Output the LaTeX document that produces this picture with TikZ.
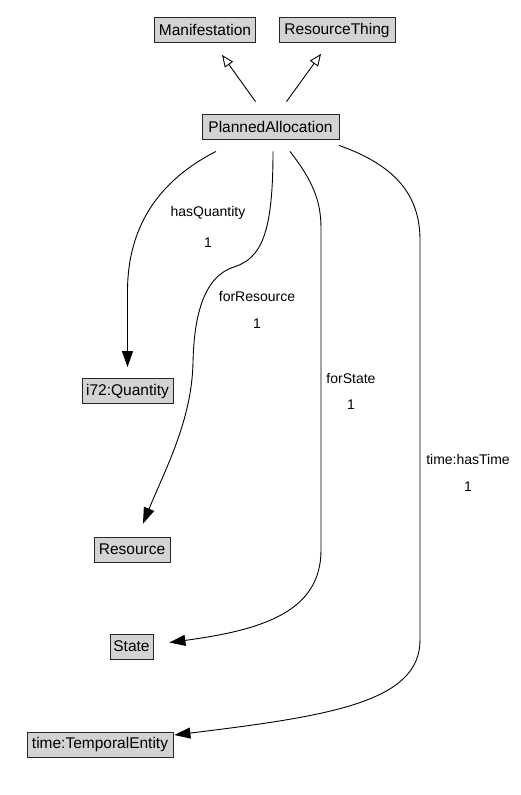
\documentclass[tikz,border=0pt]{standalone}
\usepackage{fontspec}
\setmainfont{Liberation Sans}
\usetikzlibrary{arrows.meta}
\definecolor{boxfill}{RGB}{211,211,211}
\begin{document}
\begin{tikzpicture}[x=1pt,y=-1pt,
  cls/.style={draw=black!85, fill=boxfill, line width=0.8pt, minimum height=25pt, inner sep=0pt, font=\fontsize{15.5}{18}\selectfont},
  lbl/.style={inner sep=0pt, font=\fontsize{14}{16}\selectfont},
  isa/.style={line width=0.9pt, -{Triangle[open, length=12pt, width=10pt]}},
  rel/.style={line width=0.9pt, -{Triangle[length=16pt, width=11pt]}}]
\useasboundingbox (0,0) rectangle (521,795);
% nodes
\node[cls, minimum width=101pt] (man) at (205,30) {Manifestation};
\node[cls, minimum width=116pt] (rt) at (337,30) {ResourceThing};
\node[cls, minimum width=137pt] (pa) at (270.5,127) {PlannedAllocation};
\node[cls, minimum width=91pt] (qty) at (127.5,391) {i72:Quantity};
\node[cls, minimum width=76pt] (res) at (132,549.5) {Resource};
\node[cls, minimum width=43pt] (st) at (131.5,646.5) {State};
\node[cls, minimum width=146pt] (te) at (100,744.5) {time:TemporalEntity};
% inheritance
\draw[isa] ([xshift=-15pt,yshift=12.5pt]pa.north) -- ([xshift=17pt,yshift=-12pt]man.south);
\draw[isa] ([xshift=16pt,yshift=12.5pt]pa.north) -- ([xshift=-16pt,yshift=-11pt]rt.south);
% hasQuantity
\draw[rel] ([xshift=-54.5pt,yshift=-11.5pt]pa.south)
  .. controls (160,180) and (128,225) .. (127.5,290)
  -- ([yshift=11pt]qty.north);
% forResource
\draw[rel] ([xshift=2.5pt,yshift=-11.5pt]pa.south)
  .. controls (273,232) and (262,258) .. (234,267)
  .. controls (202,277) and (194,320) .. (193,362)
  .. controls (192,420) and (165,470) .. ([xshift=11pt,yshift=13pt]res.north);
% forState
\draw[rel] ([xshift=19.5pt,yshift=-11.5pt]pa.south)
  .. controls (312,180) and (321,200) .. (321,228)
  -- (321,550)
  .. controls (321,612) and (262,630) .. ([xshift=16pt,yshift=4pt]st.east);
% time:hasTime
\draw[rel] ([xshift=-0.5pt,yshift=-5.5pt]pa.south east)
  .. controls (395,165) and (420,195) .. (420,240)
  -- (420,640)
  .. controls (420,702) and (330,716) .. ([xshift=1pt,yshift=9.5pt]te.east);
% labels
\node[lbl] (l1) at (208,213) {hasQuantity};
\node[lbl] (l1n) at (208,243) {1};
\node[lbl] (l2) at (257,296) {forResource};
\node[lbl] (l2n) at (257,324) {1};
\node[lbl] (l3) at (351,378) {forState};
\node[lbl] (l3n) at (351,405) {1};
\node[lbl] (l4) at (468,459) {time:hasTime};
\node[lbl] (l4n) at (468,487) {1};
\end{tikzpicture}
\end{document}
